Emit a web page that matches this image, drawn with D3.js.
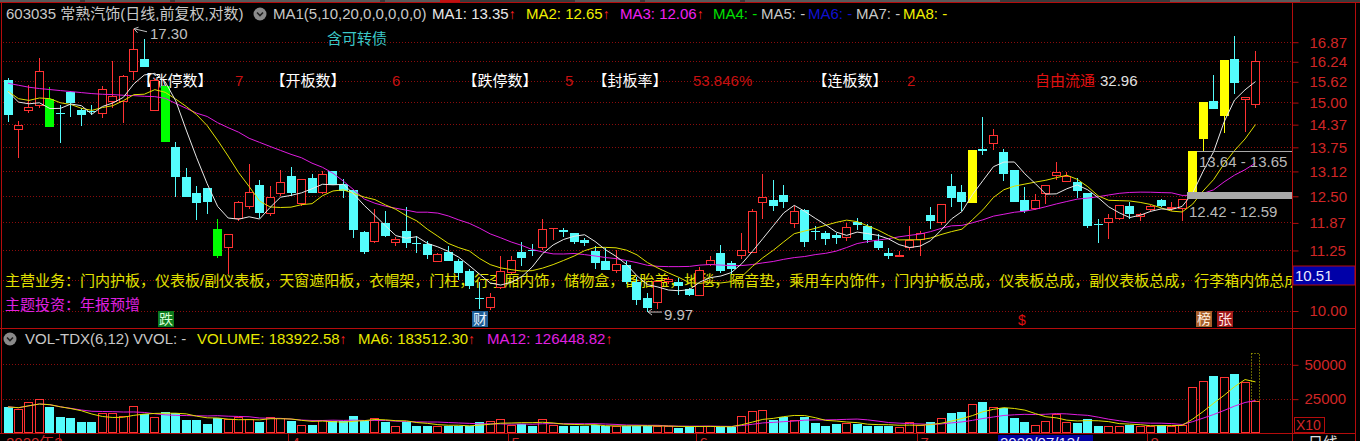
<!DOCTYPE html>
<html><head><meta charset="utf-8">
<script src="https://cdn.jsdelivr.net/npm/d3@7/dist/d3.min.js"></script>
<style>
html,body{margin:0;padding:0;background:#000;overflow:hidden}
svg{display:block;font-family:"Liberation Sans","Noto Sans CJK SC",sans-serif}
</style></head>
<body><svg id="c" width="1360" height="441"></svg>
<script>
// ---------------- DATA ----------------
const opens  = [15.67,14.20,14.73,14.88,15.08,14.69,15.30,14.76,14.73,14.67,15.00,15.00,15.91,16.31,14.73,15.48,13.74,12.96,12.58,12.68,
                11.71,11.30,11.95,12.22,12.76,12.06,12.55,12.98,12.30,12.93,12.58,13.11,12.79,12.64,11.65,11.43,11.86,11.40,11.67,11.41,
                11.38,10.99,11.21,11.01,10.80,10.25,10.05,10.45,10.76,11.21,11.26,11.30,11.71,11.69,11.62,11.48,11.23,11.01,10.80,10.92,
                10.57,10.25,10.15,10.57,10.57,10.42,10.28,10.92,11.19,10.97,11.12,11.19,12.32,12.40,12.51,11.84,12.16,11.67,11.62,11.58,
                11.52,11.88,11.79,11.45,11.19,11.10,11.30,11.48,12.04,11.86,12.73,12.60,12.32,13.70,13.83,13.61,13.14,12.40,12.18,12.54,
                12.98,12.85,12.85,12.58,11.84,11.86,11.94,12.26,12.00,12.16,12.40,12.18,12.18,12.59,13.95,15.02,14.60,16.31,15.05,14.91];
const highs  = [15.71,14.45,15.50,16.35,15.45,14.91,15.32,14.82,14.91,15.47,16.25,15.81,17.30,16.96,15.71,15.48,13.88,13.19,12.73,12.70,
                11.95,11.60,12.38,13.30,12.90,12.75,13.15,13.22,12.92,13.03,13.13,13.13,12.92,12.65,11.67,12.18,12.14,11.54,12.22,11.56,
                11.45,11.18,11.34,11.05,10.84,10.56,10.35,11.12,11.12,11.43,11.38,11.94,11.75,11.75,11.63,11.52,11.34,11.30,11.26,11.01,
                10.67,10.35,10.59,10.67,10.66,10.45,10.88,11.12,11.35,11.01,11.63,12.19,13.04,12.90,12.76,12.26,12.19,11.79,11.67,11.63,
                11.85,11.98,11.83,11.60,11.30,11.23,11.79,11.67,12.22,12.30,13.04,12.76,13.66,14.57,14.23,13.70,13.14,12.71,12.54,12.76,
                13.34,13.08,12.95,12.58,11.94,12.06,12.28,12.34,12.10,12.28,12.42,12.34,12.42,13.64,15.00,15.81,16.28,17.07,15.15,16.57];
const lows   = [14.43,13.45,14.68,14.82,14.29,13.86,14.57,14.31,14.62,14.53,14.82,14.39,15.65,16.05,14.73,13.88,12.46,12.48,11.92,12.06,
                11.08,10.73,11.90,12.18,11.98,12.02,12.50,12.50,12.26,12.57,12.54,12.76,12.45,11.52,11.17,11.41,11.54,11.34,11.30,11.19,
                11.05,10.99,11.01,10.62,10.42,10.02,10.01,10.42,10.73,10.90,11.12,11.26,11.48,11.54,11.38,11.34,10.85,10.83,10.76,10.52,
                10.11, 9.97,10.02,10.53,10.31,10.28,10.28,10.90,10.76,10.73,11.05,11.18,11.95,12.14,12.20,11.75,11.32,11.48,11.35,11.38,
                11.45,11.69,11.41,11.26,11.05,11.10,11.26,11.12,11.71,11.82,12.22,12.14,12.32,13.52,13.67,12.87,12.34,12.10,12.16,12.30,
                12.90,12.83,12.45,11.75,11.40,11.50,11.92,11.94,11.90,12.11,12.22,12.14,11.90,12.59,13.65,14.80,14.13,15.25,14.14,14.83];
const closes = [14.64,14.34,14.86,15.93,14.29,14.67,14.97,14.62,14.70,15.40,15.18,15.79,16.63,16.06,15.65,13.88,12.96,12.48,12.32,12.34,
                11.12,11.60,12.34,12.60,12.08,12.48,12.83,12.56,12.91,12.58,13.04,12.76,12.62,11.69,11.21,11.88,11.56,11.50,11.40,11.38,
                11.14,11.17,11.01,10.76,10.49,10.22,10.27,10.80,11.04,11.07,11.23,11.71,11.75,11.65,11.43,11.40,10.96,10.83,10.94,10.56,
                10.20,10.05,10.59,10.63,10.49,10.31,10.83,11.04,10.80,10.85,11.25,12.14,12.46,12.26,12.35,12.14,11.43,11.65,11.50,11.52,
                11.77,11.80,11.48,11.30,11.12,11.14,11.48,11.63,11.90,12.30,12.44,12.35,13.66,13.63,14.06,13.04,12.36,12.14,12.40,12.76,
                13.08,12.98,12.62,11.79,11.80,11.98,12.28,12.06,12.06,12.26,12.26,12.22,12.42,13.64,15.00,14.80,16.28,15.58,15.15,16.25];
const volumes = [19000,17800,22600,25000,18600,11400,11200,8300,8300,14300,14300,12400,19500,13600,11400,15200,14300,9500,9500,6400,
                 10700,10000,11900,10000,8300,11400,10700,8800,6000,5700,9500,8800,8800,12400,8800,10700,7900,5200,7900,5200,
                 5200,5200,5200,5200,5200,8300,9000,10000,6000,6700,5200,10000,6000,4800,4800,4800,6000,5200,5200,5200,
                 5200,4800,5200,4800,3600,4800,5200,5200,4300,4300,12400,16200,17100,9500,11900,9500,11900,7100,5200,6700,
                 7600,6700,5200,5200,4800,4300,8200,6000,8200,11000,14300,15500,21000,22900,18600,18390,10700,8300,6000,9000,
                 13800,8300,7100,10000,5200,5200,5200,6000,4800,5200,6000,5200,6000,33300,37600,41700,40500,43300,36900,23300];
const estLastVolume = 57900;
const limitUpDays   = [92,113,114,116];
const limitDownDays = [4,15,20];
// MA values at the left edge (windows start before the visible bars)
const ma5Lead  = [15.31,15.00,14.95,14.98];
const ma10Lead = [15.32,15.10,15.05,15.12,15.10,14.98,14.93,14.82,14.76];
const ma20Lead = [15.56,15.50,15.44,15.40,15.37,15.34,15.31,15.28,15.25,15.23,15.22,15.20,15.19,15.17,15.16,15.11,14.96,14.82,14.68];
const priceTicks = [10.00,10.62,11.25,11.87,12.50,13.12,13.75,14.37,15.00,15.62,16.24,16.87];
const hiddenTickLabels = [10.62];   // covered by the cursor-price box in the reference
const volTicks = [25000,50000];
const monthTicks = [{i:27,label:"4"},{i:48,label:"5"},{i:66,label:"6"},{i:87,label:"7"},{i:109,label:"8"}];
const firstMonth = {i:5,label:"2020年3"};
const cursorDay = 95, cursorDate = "2020/07/13/", cursorPrice = "10.51";
const gapLow  = {from:112, lo:12.42, hi:12.59};
const gapHigh = {from:113, lo:13.64, hi:13.65};
const markers = [{i:15,t:"跌",bg:"#0c7a1c",fg:"#d8ffd8"},{i:45,t:"财",bg:"#1f5d95",fg:"#e8f4ff"},
                 {i:114,t:"榜",bg:"#a8602c",fg:"#fff0e0"},{i:116,t:"张",bg:"#a01818",fg:"#ffe8e8"}];
const dollarDay = 97;
const headerItems = [
  {x:6,   t:"603035 常熟汽饰(日线,前复权,对数)", c:"#c8c8c8"},
  {x:273, t:"MA1(5,10,20,0,0,0,0,0)", c:"#c8c8c8"},
  {x:432, t:"MA1: 13.35", c:"#e8e8e8", up:true},
  {x:526, t:"MA2: 12.65", c:"#f0f000", up:true},
  {x:620, t:"MA3: 12.06", c:"#f020f0", up:true},
  {x:713, t:"MA4: -", c:"#00e000"},
  {x:761, t:"MA5: -", c:"#c8c8c8"},
  {x:808, t:"MA6: -", c:"#1010d0"},
  {x:856, t:"MA7: -", c:"#c8c8c8"},
  {x:903, t:"MA8: -", c:"#f0f000"}];
const volHeader = [
  {x:25,  t:"VOL-TDX(6,12)", c:"#c8c8c8"},
  {x:133, t:"VVOL: -", c:"#c8c8c8"},
  {x:197, t:"VOLUME: 183922.58", c:"#e8e800", up:true},
  {x:358, t:"MA6: 183512.30", c:"#e8e800", up:true},
  {x:487, t:"MA12: 126448.82", c:"#e020e0", up:true}];
const statsRow = [
  {x:137.5,t:"【涨停数】",c:"#ffffff"},{x:235,t:"7",c:"#c81010"},
  {x:270.5,t:"【开板数】",c:"#ffffff"},{x:392,t:"6",c:"#c81010"},
  {x:462.5,t:"【跌停数】",c:"#ffffff"},{x:565,t:"5",c:"#c81010"},
  {x:592.5,t:"【封板率】",c:"#ffffff"},{x:693,t:"53.846%",c:"#c81010"},
  {x:812.5,t:"【连板数】",c:"#ffffff"},{x:907,t:"2",c:"#c81010"},
  {x:1035,t:"自由流通",c:"#e01010"},{x:1100,t:"32.96",c:"#e0e0e0"}];
const businessText = "主营业务：门内护板，仪表板/副仪表板，天窗遮阳板，衣帽架，门柱，行李厢内饰，储物盒，备胎盖，地毯，隔音垫，乘用车内饰件，门内护板总成，仪表板总成，副仪表板总成，行李箱内饰总成";
const themeText = "主题投资：年报预增";
const bondText = "含可转债";

// ---------------- SETUP ----------------
const RED="#ff3232", CYAN="#54fcfc", GRID="#8a0c0c", FRAME="#b40c0c", AXT="#d02626";
const svg = d3.select("#c");
svg.append("rect").attr("width",1360).attr("height",441).attr("fill","#000");
const n = closes.length;
const x = d3.scaleLinear().domain([0,n-1]).range([7.5,1255]);
const y = d3.scaleLog().domain([10,16.87]).range([310.5,41.7]);
const yv = d3.scaleLinear().domain([0,50000]).range([433,364.3]);
const px = i => Math.round(x(i));

const defs = svg.append("defs");
defs.append("clipPath").attr("id","plot").append("rect").attr("x",2).attr("y",4).attr("width",1290).attr("height",324);
defs.append("clipPath").attr("id","vplot").append("rect").attr("x",2).attr("y",329).attr("width",1290).attr("height",104);

// top strip
svg.append("rect").attr("x",0).attr("y",0).attr("width",1360).attr("height",2).attr("fill","#3a3a3a");
[[0,80],[85,170],[175,380],[385,440],[440,460],[575,640],[645,740],[745,1000],[1170,1300]].forEach(([a,b],k)=>{
  svg.append("rect").attr("x",a).attr("y",0).attr("width",b-a).attr("height",2).attr("fill",k===4?"#c01010":"#5a5a5a");
});

// grid lines
const grid = svg.append("g");
priceTicks.forEach(t=>{
  grid.append("line").attr("x1",3).attr("x2",1292).attr("y1",Math.round(y(t))+0.5).attr("y2",Math.round(y(t))+0.5)
    .attr("stroke",GRID).attr("stroke-dasharray","1,2");
});
volTicks.forEach(t=>{
  grid.append("line").attr("x1",3).attr("x2",1292).attr("y1",Math.round(yv(t))+0.5).attr("y2",Math.round(yv(t))+0.5)
    .attr("stroke",GRID).attr("stroke-dasharray","1,2");
});

// frame
const frame = svg.append("g").attr("stroke",FRAME).attr("stroke-width",1);
frame.append("line").attr("x1",0).attr("x2",1360).attr("y1",2.5).attr("y2",2.5);
frame.append("line").attr("x1",1.5).attr("x2",1.5).attr("y1",3).attr("y2",433);
frame.append("line").attr("x1",1292.5).attr("x2",1292.5).attr("y1",3).attr("y2",441);
frame.append("line").attr("x1",1355.5).attr("x2",1355.5).attr("y1",3).attr("y2",441);
frame.append("line").attr("x1",0).attr("x2",1356).attr("y1",328.5).attr("y2",328.5);
frame.append("line").attr("x1",0).attr("x2",1356).attr("y1",433.5).attr("y2",433.5);

// texts behind candles
const plotG = svg.append("g").attr("clip-path","url(#plot)");
plotG.append("text").attr("x",5).attr("y",285.5).attr("fill","#e0e000").attr("font-size",15).text(businessText);
plotG.append("text").attr("x",5).attr("y",309.5).attr("fill","#e020e0").attr("font-size",15).text(themeText);
statsRow.forEach(d=>{
  plotG.append("text").attr("x",d.x).attr("y",86).attr("fill",d.c).attr("font-size",15).text(d.t);
});
plotG.append("text").attr("x",327).attr("y",43.5).attr("fill","#3cc8c8").attr("font-size",15).text(bondText);

// candles
const cg = plotG.append("g");
for(let i=0;i<n;i++){
  const o=opens[i], c=closes[i], h=highs[i], l=lows[i];
  const cx=px(i);
  const top=Math.round(y(Math.max(o,c))), bot=Math.round(y(Math.min(o,c)));
  const yh=Math.round(y(h)), yl=Math.round(y(l));
  let col, hollow=false;
  if(limitUpDays.includes(i)) col="#ffff00";
  else if(limitDownDays.includes(i)) col="#00ff00";
  else if(c>=o){col=RED; hollow=true;}
  else col=CYAN;
  if(hollow){
    if(yh<top) cg.append("line").attr("x1",cx+0.5).attr("x2",cx+0.5).attr("y1",yh).attr("y2",top).attr("stroke",col);
    if(yl>bot) cg.append("line").attr("x1",cx+0.5).attr("x2",cx+0.5).attr("y1",bot).attr("y2",yl).attr("stroke",col);
    const hh=Math.max(0,bot-top);
    if(hh<2){
      cg.append("rect").attr("x",cx-4).attr("y",top).attr("width",9).attr("height",Math.max(1,hh)).attr("fill",col);
    } else {
      cg.append("rect").attr("x",cx-3.5).attr("y",top+0.5).attr("width",8).attr("height",hh-1)
        .attr("fill","#000").attr("stroke",col);
    }
  } else {
    cg.append("line").attr("x1",cx+0.5).attr("x2",cx+0.5).attr("y1",yh).attr("y2",yl).attr("stroke",col);
    cg.append("rect").attr("x",cx-4).attr("y",top).attr("width",9).attr("height",Math.max(1,bot-top)).attr("fill",col);
  }
}

// moving averages
function ma(arr,k,lead){
  return arr.map((_,i)=> i<k-1 ? (lead? lead[i] : d3.mean(arr.slice(0,i+1))) : d3.mean(arr.slice(i-k+1,i+1)));
}
const line = d3.line().x((d,i)=>x(i)+0.5).y(d=>y(d));
[[ma(closes,20,ma20Lead),"#e01ce0"],[ma(closes,10,ma10Lead),"#e0e000"],[ma(closes,5,ma5Lead),"#e8e8e8"]].forEach(([s,c])=>{
  plotG.append("path").attr("d",line(s)).attr("fill","none").attr("stroke",c).attr("stroke-width",1);
});

// gap bands
[gapLow,gapHigh].forEach((g,k)=>{
  const x0=px(g.from)+5, y0=y(g.hi), y1=y(g.lo);
  plotG.append("rect").attr("x",x0).attr("y",Math.round(y0)).attr("width",1292-x0)
    .attr("height",Math.max(1,Math.round(y1)-Math.round(y0))).attr("fill","#a8a8a8");
  plotG.append("text").attr("x",x0+2).attr("y",Math.round(y1)+(k===0?18:16)).attr("fill","#b8b8b8").attr("font-size",15)
    .text(d3.format(".2f")(g.lo)+" - "+d3.format(".2f")(g.hi));
});

// high / low labels
{
  const hiI = d3.maxIndex(highs), loI = d3.minIndex(lows);
  const tx=px(hiI)+1, ty=y(highs[hiI]);
  const lab=svg.append("g").attr("stroke","#c0c0c0").attr("fill","none");
  lab.append("path").attr("d",`M${tx+13},${ty+3} L${tx},${ty} M${tx},${ty} L${tx+3.5},${ty+4} M${tx},${ty} L${tx+4.5},${ty-1.5}`);
  svg.append("text").attr("x",tx+16).attr("y",ty+10.5).attr("fill","#c0c0c0").attr("font-size",15).text(d3.format(".2f")(highs[hiI]));
  const lx=px(loI)+1, ly=y(lows[loI]);
  lab.append("path").attr("d",`M${lx+14},${ly} L${lx},${ly} M${lx},${ly} L${lx+4},${ly-3} M${lx},${ly} L${lx+4},${ly+3}`);
  svg.append("text").attr("x",lx+16).attr("y",ly+8).attr("fill","#c0c0c0").attr("font-size",15).text(d3.format(".2f")(lows[loI]));
}

// markers
markers.forEach(m=>{
  const cx=px(m.i);
  svg.append("rect").attr("x",cx-7).attr("y",311).attr("width",16).attr("height",16).attr("fill",m.bg);
  svg.append("text").attr("x",cx+1).attr("y",324).attr("text-anchor","middle").attr("fill",m.fg).attr("font-size",14).text(m.t);
});
svg.append("text").attr("x",px(dollarDay)-2).attr("y",325).attr("text-anchor","middle").attr("fill","#e01010")
  .attr("font-size",14).text("$");

// header
function header(items,yb){
  items.forEach(d=>{
    const t=svg.append("text").attr("x",d.x).attr("y",yb).attr("font-size",15).attr("fill",d.c);
    t.append("tspan").text(d.t);
    if(d.up) t.append("tspan").attr("fill","#ff2020").attr("font-size",14).text("↑");
  });
}
header(headerItems,19);
header(volHeader,344);
function icon(cx,cy){
  svg.append("circle").attr("cx",cx).attr("cy",cy).attr("r",6.5).attr("fill","#8a8a8a");
  svg.append("path").attr("d",`M${cx-3},${cy-1.5} L${cx},${cy+1.5} L${cx+3},${cy-1.5}`).attr("fill","none")
    .attr("stroke","#202020").attr("stroke-width",1.6);
}
icon(260,14); icon(10,339);

// volume bars
const vg = svg.append("g").attr("clip-path","url(#vplot)");
for(let i=0;i<n;i++){
  const cx=px(i), v=volumes[i], yt=Math.round(yv(v)), yb=433;
  const up = closes[i]>=opens[i];
  if(up){
    vg.append("rect").attr("x",cx-3.5).attr("y",yt+0.5).attr("width",8).attr("height",Math.max(0,yb-yt-1))
      .attr("fill","#000").attr("stroke",RED);
  } else {
    vg.append("rect").attr("x",cx-4).attr("y",yt).attr("width",9).attr("height",yb-yt).attr("fill",CYAN);
  }
}
{
  const i=n-1, cx=px(i);
  vg.append("rect").attr("x",cx-3.5).attr("y",Math.round(yv(estLastVolume))+0.5).attr("width",8)
    .attr("height",Math.round(yv(volumes[i]))-Math.round(yv(estLastVolume))).attr("fill","none")
    .attr("stroke","#c8c800").attr("stroke-dasharray","1,2");
}
const vline = d3.line().x((d,i)=>x(i)+0.5).y(d=>yv(d));
vg.append("path").attr("d",vline(ma(volumes,12))).attr("fill","none").attr("stroke","#e01ce0");
vg.append("path").attr("d",vline(ma(volumes,6))).attr("fill","none").attr("stroke","#e0e000");

// axes
function styleAxis(g){
  g.select(".domain").remove();
  g.selectAll(".tick line").attr("stroke",FRAME);
  g.selectAll(".tick text").attr("fill",AXT).attr("font-size",15).attr("font-family","Liberation Sans");
}
svg.append("g").attr("transform","translate(1292.5,0.5)")
  .call(d3.axisRight(y).tickValues(priceTicks)
        .tickFormat(d => hiddenTickLabels.includes(d) ? "" : d3.format(".2f")(d))
        .tickSize(6).tickPadding(11)).call(styleAxis);
svg.append("g").attr("transform","translate(1292.5,0.5)")
  .call(d3.axisRight(yv).tickValues(volTicks).tickFormat(d3.format("d")).tickSize(6).tickPadding(6)).call(styleAxis);

// cursor price box
svg.append("rect").attr("x",1293).attr("y",266).attr("width",62).attr("height",19).attr("fill","#0000a8")
  .attr("stroke",FRAME);
svg.append("text").attr("x",1295).attr("y",281).attr("fill","#e8e8ff").attr("font-size",15).text(cursorPrice);

// X10 box
svg.append("rect").attr("x",1294.5).attr("y",417.5).attr("width",30).attr("height",15).attr("fill","none").attr("stroke",FRAME);
svg.append("text").attr("x",1296).attr("y",430).attr("fill",AXT).attr("font-size",14).text("X10");

// date axis (mostly cut off at the bottom edge, as in the reference)
const dg = svg.append("g");
dg.append("text").attr("x",6).attr("y",448).attr("fill",AXT).attr("font-size",15).text(firstMonth.label);
dg.append("line").attr("x1",Math.round(x(firstMonth.i))-0.5).attr("x2",Math.round(x(firstMonth.i))-0.5)
  .attr("y1",434).attr("y2",441).attr("stroke",FRAME);
monthTicks.forEach(m=>{
  const tx=Math.round(x(m.i))-2.5;
  dg.append("line").attr("x1",tx).attr("x2",tx).attr("y1",434).attr("y2",441).attr("stroke",FRAME);
  dg.append("text").attr("x",tx+3).attr("y",448).attr("fill",AXT).attr("font-size",15).text(m.label);
});
{
  const bx=px(cursorDay)-5;
  dg.append("rect").attr("x",bx).attr("y",435).attr("width",95).attr("height",8).attr("fill","#0000a0");
  dg.append("text").attr("x",bx+2).attr("y",448).attr("fill","#e8e8ff").attr("font-size",15).text(cursorDate);
}
dg.append("text").attr("x",1308).attr("y",448).attr("fill","#e0e0e0").attr("font-size",15).text("日线");
</script></body></html>
